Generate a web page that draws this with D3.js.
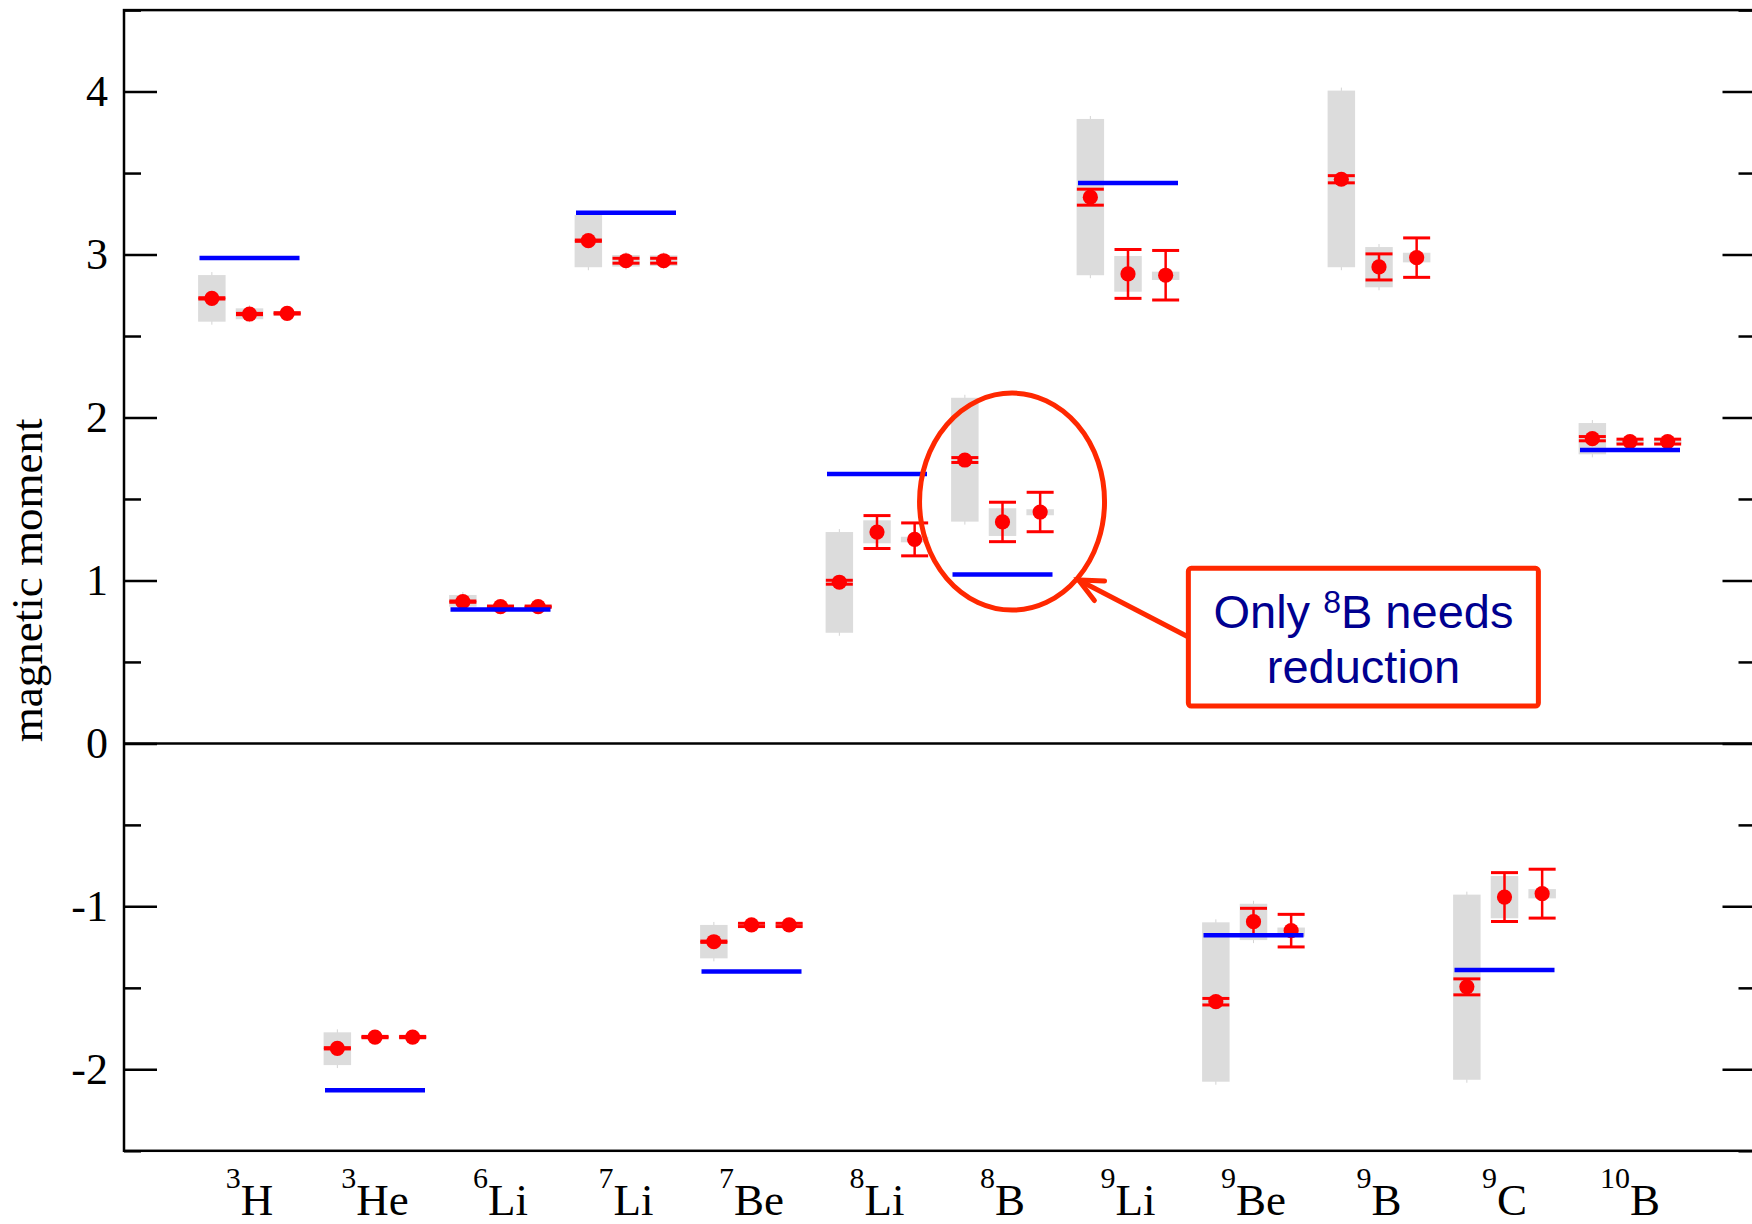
<!DOCTYPE html>
<html>
<head>
<meta charset="utf-8">
<script src="https://cdn.jsdelivr.net/npm/d3@7"></script>
<style>
  html, body { margin: 0; padding: 0; background: #fff; }
  svg { display: block; }
</style>
</head>
<body>
<svg id="chart" width="1752" height="1224"></svg>
<script>
// Nuclei along the x axis (mass number shown as a superscript)
const massNumbers = ["3", "3", "6", "7", "7", "8", "8", "9", "9", "9", "9", "10"];
const elements    = ["H", "He", "Li", "Li", "Be", "Li", "B", "Li", "Be", "B", "C", "B"];

// Measured magnetic moments (blue bars); 9B has no measurement
const experiment = [2.979, -2.128, 0.822, 3.256, -1.399, 1.654, 1.036, 3.439, -1.178, null, -1.391, 1.801];

// Calculation 1 (left point of each group)
const calc1Value = [2.731, -1.871, 0.870, 3.085, -1.217, 0.989, 1.739, 3.352, -1.585, 3.462, -1.494, 1.870];
const calc1Error = [0.004, 0.004, 0.004, 0.004, 0.004, 0.012, 0.015, 0.049, 0.020, 0.022, 0.049, 0.013];
const calc1Band  = [[2.588, 2.874], [-1.974, -1.773], [0.839, 0.911], [2.922, 3.243], [-1.319, -1.114],
                    [0.679, 1.297], [1.361, 2.121], [2.873, 3.832], [-2.076, -1.098], [2.922, 4.006],
                    [-2.064, -0.928], [1.774, 1.966]];

// Calculation 2 (middle point)
const calc2Value = [2.635, -1.802, 0.839, 2.962, -1.114, 1.297, 1.359, 2.881, -1.094, 2.924, -0.943, 1.852];
const calc2Error = [0.004, 0.004, 0.004, 0.015, 0.010, 0.101, 0.121, 0.150, 0.082, 0.080, 0.150, 0.015];
const calc2Band  = [[2.603, 2.670], [-1.815, -1.790], [0.832, 0.846], [2.926, 2.997], [-1.125, -1.103],
                    [1.228, 1.369], [1.273, 1.443], [2.772, 2.991], [-1.207, -0.984], [2.799, 3.046],
                    [-1.073, -0.814], [1.840, 1.862]];

// Calculation 3 (right point)
const calc3Value = [2.639, -1.802, 0.839, 2.962, -1.114, 1.252, 1.420, 2.873, -1.149, 2.981, -0.922, 1.852];
const calc3Error = [0.004, 0.004, 0.004, 0.015, 0.010, 0.101, 0.121, 0.152, 0.100, 0.121, 0.150, 0.015];
const calc3Band  = [[2.625, 2.653], [-1.815, -1.790], [0.832, 0.846], [2.930, 2.995], [-1.125, -1.103],
                    [1.234, 1.268], [1.400, 1.437], [2.844, 2.895], [-1.186, -1.130], [2.952, 3.011],
                    [-0.951, -0.894], [1.840, 1.862]];

// Axis ticks
const yMajorTicks = [-2, -1, 0, 1, 2, 3, 4];
const yMinorTicks = [-2.5, -1.5, -0.5, 0.5, 1.5, 2.5, 3.5, 4.5];

const svg = d3.select("#chart");

const x = d3.scaleLinear().domain([-1, 12]).range([124, 1755.5]);
const y = d3.scaleLinear().domain([-2.5, 4.5]).range([1150.8, 10.1]);

const serif = "'Liberation Serif', 'Times New Roman', serif";
const sans = "'Liberation Sans', Arial, sans-serif";
const RED = "#ff0000", BLUE = "#0000ff", GRAY = "#dcdcdc", NOTE = "#ff2800";

const series = [
  { values: calc1Value, errors: calc1Error, bands: calc1Band, offset: -0.3 },
  { values: calc2Value, errors: calc2Error, bands: calc2Band, offset: 0 },
  { values: calc3Value, errors: calc3Error, bands: calc3Band, offset: 0.3 }
];

const bandW = 27.5, capW = 27;

// Uncertainty bands (gray)
const bandLayer = svg.append("g");
series.forEach(s => {
  s.bands.forEach((b, i) => {
    const cx = x(i + s.offset);
    bandLayer.append("line")
      .attr("x1", cx).attr("x2", cx)
      .attr("y1", y(b[1]) - 3).attr("y2", y(b[0]) + 3)
      .attr("stroke", "#d4d4d4").attr("stroke-width", 1);
    bandLayer.append("rect")
      .attr("x", cx - bandW / 2).attr("width", bandW)
      .attr("y", y(b[1])).attr("height", y(b[0]) - y(b[1]))
      .attr("fill", GRAY);
  });
});

// Error bars and points
const pointLayer = svg.append("g");
series.forEach(s => {
  s.values.forEach((v, i) => {
    const cx = x(i + s.offset), e = s.errors[i];
    const g = pointLayer.append("g");
    g.append("line")
      .attr("x1", cx).attr("x2", cx)
      .attr("y1", y(v + e)).attr("y2", y(v - e))
      .attr("stroke", RED).attr("stroke-width", 2.5);
    [v + e, v - e].forEach(c => {
      g.append("line")
        .attr("x1", cx - capW / 2).attr("x2", cx + capW / 2)
        .attr("y1", y(c)).attr("y2", y(c))
        .attr("stroke", RED).attr("stroke-width", 3);
    });
    g.append("circle")
      .attr("cx", cx).attr("cy", y(v)).attr("r", 7.6)
      .attr("fill", RED);
  });
});

// Experimental values (blue bars)
svg.append("g").selectAll("line")
  .data(experiment.map((v, i) => ({ v, i })).filter(d => d.v !== null))
  .join("line")
  .attr("x1", d => x(d.i) - 50).attr("x2", d => x(d.i) + 50)
  .attr("y1", d => y(d.v)).attr("y2", d => y(d.v))
  .attr("stroke", BLUE).attr("stroke-width", 4.5);

// Frame and zero line
const frame = svg.append("g").attr("stroke", "#000").attr("stroke-width", 2.5).attr("fill", "none");
frame.append("rect")
  .attr("x", x(-1)).attr("y", y(4.5))
  .attr("width", x(12) - x(-1)).attr("height", y(-2.5) - y(4.5));
frame.append("line")
  .attr("x1", x(-1)).attr("x2", x(12))
  .attr("y1", y(0)).attr("y2", y(0));

// Left axis: major ticks with labels, minor ticks without
const leftMajor = svg.append("g")
  .attr("transform", `translate(${x(-1)},0)`)
  .call(d3.axisLeft(y).tickValues(yMajorTicks).tickSizeInner(-33).tickSizeOuter(0)
    .tickPadding(16).tickFormat(d => String(d)));
leftMajor.select(".domain").remove();
leftMajor.selectAll("line").attr("stroke", "#000").attr("stroke-width", 2.5);
leftMajor.selectAll("text")
  .attr("font-family", serif).attr("font-size", 44).attr("fill", "#000");

const leftMinor = svg.append("g")
  .attr("transform", `translate(${x(-1)},0)`)
  .call(d3.axisLeft(y).tickValues(yMinorTicks).tickSizeInner(-17).tickSizeOuter(0).tickFormat(""));
leftMinor.select(".domain").remove();
leftMinor.selectAll("line").attr("stroke", "#000").attr("stroke-width", 2.5);

// Right axis mirrors the ticks
const rightMajor = svg.append("g")
  .attr("transform", `translate(${x(12)},0)`)
  .call(d3.axisRight(y).tickValues(yMajorTicks).tickSizeInner(-33).tickSizeOuter(0).tickFormat(""));
rightMajor.select(".domain").remove();
rightMajor.selectAll("line").attr("stroke", "#000").attr("stroke-width", 2.5);

const rightMinor = svg.append("g")
  .attr("transform", `translate(${x(12)},0)`)
  .call(d3.axisRight(y).tickValues(yMinorTicks).tickSizeInner(-17).tickSizeOuter(0).tickFormat(""));
rightMinor.select(".domain").remove();
rightMinor.selectAll("line").attr("stroke", "#000").attr("stroke-width", 2.5);

// Nucleus labels
const labels = svg.append("g")
  .attr("font-family", serif).attr("fill", "#000");
elements.forEach((el, i) => {
  const t = labels.append("text")
    .attr("x", x(i)).attr("y", 1215)
    .attr("text-anchor", "middle");
  t.append("tspan").attr("font-size", 30).attr("dy", -27).text(massNumbers[i]);
  t.append("tspan").attr("font-size", 45).attr("dy", 27).text(el);
});

// Y axis title
svg.append("text")
  .attr("transform", `translate(42,${y(1.0)})rotate(-90)`)
  .attr("text-anchor", "middle")
  .attr("font-family", serif).attr("font-size", 45).attr("fill", "#000")
  .text("magnetic moment");

// Callout: ellipse around 8B, arrow and note box
const note = svg.append("g");
const ell = { cat: 6.076, value: 1.484, rx: 0.737, ry: 0.666 };
note.append("ellipse")
  .attr("cx", x(ell.cat)).attr("cy", y(ell.value))
  .attr("rx", x(ell.rx) - x(0)).attr("ry", y(0) - y(ell.ry))
  .attr("fill", "none").attr("stroke", NOTE).attr("stroke-width", 5);

const arrowFrom = { cat: 7.481, value: 0.653 };
const arrowTip = { cat: 6.606, value: 1.003 };
const ax0 = x(arrowFrom.cat), ay0 = y(arrowFrom.value);
const ax1 = x(arrowTip.cat), ay1 = y(arrowTip.value);
note.append("line")
  .attr("x1", ax0).attr("y1", ay0).attr("x2", ax1).attr("y2", ay1)
  .attr("stroke", NOTE).attr("stroke-width", 5);
const ang = Math.atan2(ay0 - ay1, ax0 - ax1), headLen = 26, spread = 25 * Math.PI / 180;
const headPts = [ang - spread, ang + spread].map(a => [ax1 + headLen * Math.cos(a), ay1 + headLen * Math.sin(a)]);
note.append("path")
  .attr("d", `M${headPts[0][0]},${headPts[0][1]}L${ax1},${ay1}L${headPts[1][0]},${headPts[1][1]}`)
  .attr("fill", "none").attr("stroke", NOTE).attr("stroke-width", 5)
  .attr("stroke-linecap", "round").attr("stroke-linejoin", "miter");

const box = { c0: 7.481, c1: 10.27, v0: 0.2295, v1: 1.0745 };
note.append("rect")
  .attr("x", x(box.c0)).attr("y", y(box.v1))
  .attr("width", x(box.c1) - x(box.c0)).attr("height", y(box.v0) - y(box.v1))
  .attr("rx", 3)
  .attr("fill", "#fff").attr("stroke", NOTE).attr("stroke-width", 5);

const textCat = 8.876;
const line1 = note.append("text")
  .attr("x", x(textCat)).attr("y", y(0.71))
  .attr("text-anchor", "middle")
  .attr("font-family", sans).attr("font-size", 47).attr("fill", "#000090");
line1.append("tspan").text("Only ");
line1.append("tspan").attr("font-size", 32).attr("dy", -15).text("8");
line1.append("tspan").attr("dy", 15).text("B needs");
note.append("text")
  .attr("x", x(textCat)).attr("y", y(0.3725))
  .attr("text-anchor", "middle")
  .attr("font-family", sans).attr("font-size", 47).attr("fill", "#000090")
  .text("reduction");
</script>
</body>
</html>
